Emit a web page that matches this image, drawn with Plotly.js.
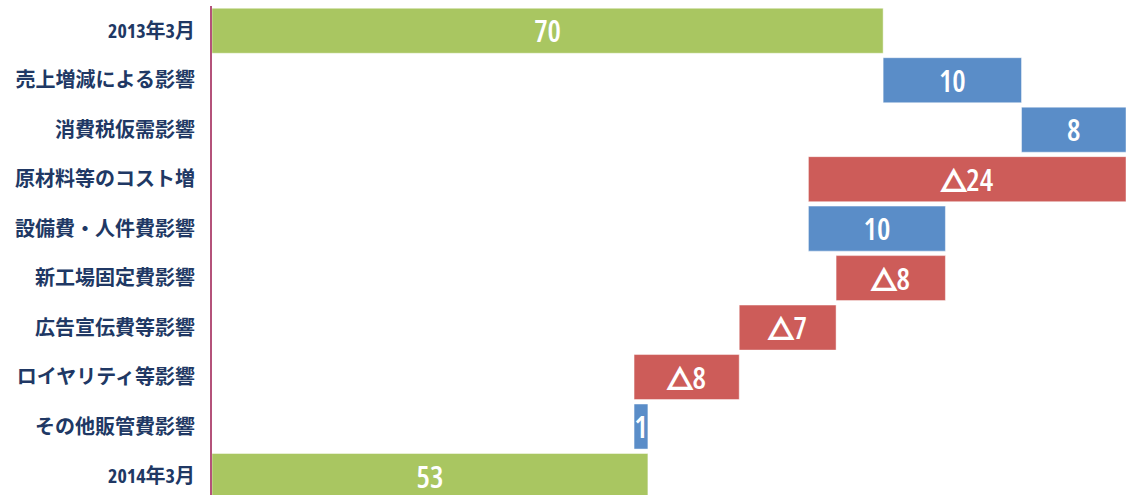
<!DOCTYPE html>
<html>
<head>
<meta charset="utf-8">
<script src="https://cdn.plot.ly/plotly-3.0.1.min.js"></script>
<style>
html,body{margin:0;padding:0;background:#fff;}
#chart{width:1126px;height:495px;}
#chart text.bartext{font-stretch:75% !important;}
#chart g.ytick text{font-stretch:87.5% !important;}
</style>
</head>
<body>
<div id="chart"></div>
<script>
const categories = ['2013年3月','売上増減による影響','消費税仮需影響','原材料等のコスト増','設備費・人件費影響','新工場固定費影響','広告宣伝費等影響','ロイヤリティ等影響','その他販管費影響','2014年3月'];
const values = [70, 10.0, 8.4, -23.8, 9.9, -7.9, -7.0, -7.6, 1.0, 53];
const kinds = ['total','delta','delta','delta','delta','delta','delta','delta','delta','total'];
const labels = ['70','10','8','△24','10','△8','△7','△8','1','53'];

const xRange = [21.5, 87.55];
const colorTotal = '#A9C661', colorUp = '#5A8DC8', colorDown = '#CD5C59';

// bar extents from the data, trimmed to the visible axis range
const bases = [], widths = [], colors = [];
let running = 0;
for (let i = 0; i < values.length; i++) {
  let a, b;
  if (kinds[i] === 'total') { a = 0; b = values[i]; running = values[i]; colors.push(colorTotal); }
  else { a = running; b = running + values[i]; running = b; colors.push(values[i] >= 0 ? colorUp : colorDown); }
  let lo = Math.max(Math.min(a, b), xRange[0]);
  let hi = Math.min(Math.max(a, b), xRange[1]);
  bases.push(lo); widths.push(hi - lo);
}
// heavier triangle glyph for the negative marks
const shownLabels = labels.map(s => s.replace('△', '<span style="font-family:\'Noto Sans CJK JP\';font-weight:900;font-size:25px;stroke:#ffffff;stroke-width:2px">△</span>'));

const trace = {
  type: 'bar', orientation: 'h',
  y: categories, x: widths, base: bases,
  marker: {color: colors, line: {color: 'rgba(255,255,255,0.45)', width: 1}},
  text: shownLabels, textposition: 'inside', insidetextanchor: 'middle', constraintext: 'none', textangle: 0,
  textfont: {family: '"Open Sans", "DejaVu Sans", "Noto Sans CJK JP", sans-serif', size: 30, color: '#ffffff', weight: 600},
  hoverinfo: 'skip', cliponaxis: true
};

const layout = {
  width: 1126, height: 495,
  margin: {l: 212, r: 0, t: 6, b: 0, pad: 0},
  paper_bgcolor: '#ffffff', plot_bgcolor: '#ffffff',
  showlegend: false, bargap: 0.09,
  xaxis: {range: xRange, showgrid: false, zeroline: false, showticklabels: false, ticks: '', showline: false, fixedrange: true},
  yaxis: {type: 'category', range: [9.384, -0.5], showgrid: false, zeroline: false, ticks: '',
          showline: true, linecolor: '#B4527A', linewidth: 2, ticklabelstandoff: 11,
          tickfont: {family: '"Open Sans", "Noto Sans CJK JP", sans-serif', size: 20, color: '#203864', weight: 'bold'},
          fixedrange: true}
};

Plotly.newPlot('chart', [trace], layout, {displayModeBar: false, staticPlot: true});
</script>
</body>
</html>
